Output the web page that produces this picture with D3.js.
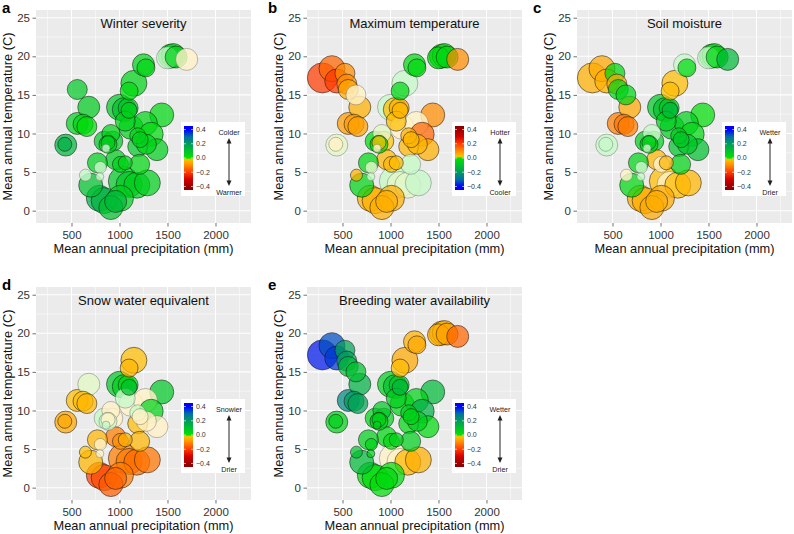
<!DOCTYPE html>
<html><head><meta charset="utf-8">
<script src="https://cdn.jsdelivr.net/npm/d3@7"></script>
<style>
body{margin:0;background:#fff;}
svg{display:block;font-family:"Liberation Sans",Arial,Helvetica,sans-serif;}
</style>
</head><body>
<svg id="chart" width="794" height="534"></svg>
<script>
// ---------- DATA ----------
const precip = [1500,1530,1560,1590,1700,1250,1275,1150,1100,1000,1050,1090,1100,1440,1060,1120,1270,1330,1190,1215,
  1190,1390,1280,1210,1040,1100,1180,1290,910,840,880,930,860,880,960,1010,770,800,795,645,
  700,790,840,910,1010,960,440,430,560,620,660,680,290,390,440,525,545,560,640,1060];
const temp = [19.8,20.0,20.1,19.9,19.6,18.9,18.5,16.5,15.5,13.4,13.1,13.3,13.0,12.4,11.6,10.8,11.3,9.9,9.7,9.2,
  8.3,7.9,8.6,6.0,3.8,3.4,3.3,3.6,10.0,9.0,8.6,9.0,8.1,8.8,6.6,6.0,6.2,5.6,4.4,4.6,
  3.3,1.6,1.3,0.4,1.6,1.2,8.5,8.6,11.3,11.2,10.9,13.4,17.2,18.4,16.8,17.8,16.4,15.7,15.0,6.2];
const sampleSize = [121,144,144,121,121,121,81,169,81,169,144,100,64,144,100,144,144,144,64,64,
  100,121,100,100,225,169,169,169,81,100,81,100,16,49,100,64,100,36,16,36,
  144,169,169,144,169,121,121,49,121,100,100,121,225,169,144,100,100,100,100,49];

const winterSeverity = [0.02,0.05,0.06,0.05,-0.02,0.05,0.04,0.05,0.03,0.08,0.1,0.08,0.06,0.04,0.05,0.06,0.05,0.03,0.04,0.06,
  0.08,0.06,0.05,0.04,0.08,0.08,0.06,0.06,0.05,0.08,0.06,0.07,0.03,0.06,0.07,0.05,0.06,0.02,0.02,0.04,
  0.1,0.15,0.14,0.1,0.06,0.12,0.13,0.15,0.06,0.05,0.02,0.07,null,null,null,null,null,0.08,null,0.05];
const winterSig = [0,1,1,1,0,1,1,1,1,1,1,1,1,1,1,1,1,1,1,1, 1,1,1,1,1,1,1,1,1,1,1,1,0,1,1,1,1,0,0,0, 1,1,1,1,1,1,1,1,1,1,1,1,1,1,1,1,1,1,1,1];

const maxTemperature = [-0.03,-0.02,-0.03,-0.04,0.1,-0.04,-0.03,-0.02,-0.04,-0.02,0.03,0.05,0.04,0.1,0.03,0.03,0.02,0.15,0.05,0.04,
  0.04,0.05,0.04,0.0,0.0,0.01,0.01,-0.02,0.01,-0.03,-0.02,0.02,0.02,0.03,0.04,0.04,-0.04,0.01,0.0,0.05,
  -0.05,0.05,0.05,0.05,0.05,0.05,0.01,0.02,0.08,0.08,0.07,0.05,0.2,0.15,0.2,0.1,0.1,0.06,0.02,0.03];
const maxTempSig = [1,1,1,1,1,1,1,0,1,0,1,1,1,1,1,0,0,1,1,1, 1,1,1,0,0,0,0,0,0,1,1,1,0,1,1,1,1,0,0,1, 1,1,1,1,1,1,0,0,1,1,1,1,1,1,1,1,1,1,0,1];

const soilMoisture = [0.02,0.04,0.03,0.04,0.12,0.02,0.03,-0.03,-0.03,0.08,0.1,0.08,0.12,0.02,0.06,0.07,0.06,0.04,0.07,0.08,
  0.1,0.1,0.08,0.05,-0.03,-0.03,-0.03,-0.04,0.02,0.06,0.05,0.06,0.02,0.05,-0.04,-0.03,0.05,0.0,0.0,-0.02,
  0.04,-0.06,-0.05,-0.06,-0.06,-0.05,0.01,0.02,-0.12,-0.13,-0.12,-0.06,-0.05,-0.06,-0.05,0.04,-0.06,0.05,0.05,-0.04];
const soilSig = [0,1,1,1,1,0,1,1,1,1,1,1,1,1,1,1,1,1,1,1, 1,1,1,1,1,0,1,1,0,1,1,1,0,1,1,0,1,0,0,0, 1,1,1,1,1,1,0,0,1,1,1,1,1,1,1,1,1,1,1,1];

const snowWater = [null,null,null,null,null,null,null,-0.03,-0.04,0.08,0.06,0.04,0.1,0.08,0.02,-0.03,-0.02,0.05,0.0,-0.02,
  -0.03,-0.03,-0.03,-0.04,-0.12,-0.12,-0.14,-0.13,-0.03,0.0,0.0,-0.03,0.02,-0.02,-0.12,-0.1,-0.04,-0.02,-0.02,-0.03,
  -0.04,-0.2,-0.18,-0.16,-0.12,-0.15,-0.06,-0.06,-0.03,-0.03,-0.04,-0.01,null,null,null,null,null,null,null,-0.05];
const snowSig = [1,1,1,1,1,1,1,1,1,1,1,1,1,1,0,0,0,1,0,0, 1,0,0,1,1,1,1,1,0,0,0,0,0,0,1,1,1,0,0,1, 1,1,1,1,1,1,1,1,1,1,1,0,1,1,1,1,1,1,1,1];

const breedingWater = [-0.05,-0.06,-0.05,-0.07,-0.15,-0.05,-0.06,-0.06,-0.03,0.06,0.1,0.08,0.12,0.12,0.06,0.05,0.05,0.15,0.06,0.05,
  0.04,0.03,0.06,0.06,-0.02,-0.02,-0.04,-0.05,0.08,0.05,0.05,0.06,0.05,0.06,0.04,0.03,0.06,0.05,0.05,0.1,
  0.12,0.03,0.02,0.02,0.03,0.03,0.05,0.06,0.25,0.2,0.18,0.15,0.38,0.33,0.35,0.18,0.2,0.12,0.1,0.05];
const breedingSig = [1,1,1,1,1,1,1,1,1,1,1,1,1,1,1,1,1,1,1,1, 1,1,1,1,0,0,1,1,1,1,1,1,1,1,1,1,1,1,1,1, 1,1,1,1,1,1,1,1,1,1,1,1,1,1,1,1,1,1,1,1];

const xTicks = [500,1000,1500,2000];
const yTicks = [0,5,10,15,20,25];
const legendTicks = [0.4,0.2,0.0,-0.2,-0.4];
const panelTitles = ["Winter severity","Maximum temperature","Soil moisture","Snow water equivalent","Breeding water availability"];
const panelLetters = ["a","b","c","d","e"];
const legendTop = ["Colder","Hotter","Wetter","Snowier","Wetter"];
const legendBottom = ["Warmer","Cooler","Drier","Drier","Drier"];
const panelValues = [winterSeverity,maxTemperature,soilMoisture,snowWater,breedingWater];
const panelSig = [winterSig,maxTempSig,soilSig,snowSig,breedingSig];
const panelReversed = [false,true,false,false,false];
const xLabel = "Mean annual precipitation (mm)";
const yLabel = "Mean annual temperature (C)";

// colour map (value -> colour), positive = blue end
const cmapStops = [-0.45,-0.4,-0.3,-0.2,-0.1,-0.02,0.0,0.1,0.2,0.3,0.4,0.45];
const cmapColors = ["#8b0000","#9a0000","#d40000","#ff3c00","#ff8c00","#ffc400","#00e400","#00c02e","#009c5c","#0070a6","#0000ff","#0000ff"];

// ---------- LAYOUT ----------
const svg = d3.select("#chart");
const colLeft = [36,307,577], rowTop = [10,287];
const PW = 215, PH = 213;
const letterX = [2,268,533], letterY = [13,290];

const cmap = d3.scaleLinear().domain(cmapStops).range(cmapColors).interpolate(d3.interpolateRgb).clamp(true);
const rScale = d3.scaleSqrt().domain([0,256]).range([0,16]);

const defs = svg.append("defs");
[false,true].forEach(rev=>{
  const g = defs.append("linearGradient").attr("id", rev?"gradRev":"grad")
    .attr("x1",0).attr("y1",0).attr("x2",0).attr("y2",1);
  d3.range(0,1.0001,0.02).forEach(t=>{
    const v = 0.45 - 0.9*t;
    g.append("stop").attr("offset",t).attr("stop-color", cmap(rev?-v:v));
  });
});

panelTitles.forEach((title,pi)=>{
  const col = pi%3, row = Math.floor(pi/3);
  const L = colLeft[col], T = rowTop[row];
  const g = svg.append("g").attr("transform",`translate(${L},${T})`);
  const x = d3.scaleLinear().domain([130,2370]).range([0,PW]);
  const y = d3.scaleLinear().domain([-1.6,26]).range([PH,0]);

  g.append("rect").attr("width",PW).attr("height",PH).attr("fill","#ebebeb");
  const xMinor = [250,750,1250,1750,2250], yMinor = [2.5,7.5,12.5,17.5,22.5];
  g.selectAll(".xm").data(xMinor).enter().append("line")
    .attr("x1",d=>x(d)).attr("x2",d=>x(d)).attr("y1",0).attr("y2",PH)
    .attr("stroke","#fff").attr("stroke-width",0.5);
  g.selectAll(".ym").data(yMinor).enter().append("line")
    .attr("y1",d=>y(d)).attr("y2",d=>y(d)).attr("x1",0).attr("x2",PW)
    .attr("stroke","#fff").attr("stroke-width",0.5);
  g.selectAll(".xM").data(xTicks).enter().append("line")
    .attr("x1",d=>x(d)).attr("x2",d=>x(d)).attr("y1",0).attr("y2",PH)
    .attr("stroke","#fff").attr("stroke-width",1.05);
  g.selectAll(".yM").data(yTicks).enter().append("line")
    .attr("y1",d=>y(d)).attr("y2",d=>y(d)).attr("x1",0).attr("x2",PW)
    .attr("stroke","#fff").attr("stroke-width",1.05);

  const xa = g.append("g").attr("transform",`translate(0,${PH})`)
    .call(d3.axisBottom(x).tickValues(xTicks).tickSize(3.5).tickPadding(4.5).tickFormat(d3.format("d")));
  const ya = g.append("g").call(d3.axisLeft(y).tickValues(yTicks).tickSize(3.5).tickPadding(2.5).tickFormat(d3.format("d")));
  [xa,ya].forEach(a=>{
    a.select(".domain").remove();
    a.selectAll(".tick line").attr("stroke","#333").attr("stroke-width",0.7);
    a.selectAll(".tick text").attr("fill","#333").attr("font-size",11.5)
      .attr("font-family","'Liberation Sans',Arial,sans-serif");
  });

  g.append("text").attr("x",PW/2).attr("y",PH+30).attr("text-anchor","middle")
    .attr("font-size",12.8).attr("fill","#111").text(xLabel);
  g.append("text").attr("transform",`translate(${-24},${PH/2}) rotate(-90)`)
    .attr("text-anchor","middle").attr("font-size",12.8).attr("fill","#111").text(yLabel);

  g.append("text").attr("x",PW/2).attr("y",17.5).attr("text-anchor","middle")
    .attr("font-size",13).attr("fill","#111").text(title);

  const vals = panelValues[pi], sig = panelSig[pi], rev = panelReversed[pi];
  const pts = precip.map((p,i)=>({p, t:temp[i], s:sampleSize[i], v:vals[i], sig:sig[i]}))
    .filter(d=>d.v!==null)
    .sort((a,b)=>b.s-a.s);
  g.selectAll(".pt").data(pts).enter().append("circle")
    .attr("cx",d=>x(d.p)).attr("cy",d=>y(d.t)).attr("r",d=>rScale(d.s))
    .attr("fill",d=>{
      const c = cmap(rev?-d.v:d.v);
      return d.sig ? c : d3.interpolateRgb(c,"#ffffff")(0.78);
    })
    .attr("fill-opacity",d=>d.sig?0.72:0.82)
    .attr("stroke",d=>d.sig?"#111":"#555")
    .attr("stroke-opacity",d=>d.sig?0.75:0.55)
    .attr("stroke-width",0.7);

  const lg = g.append("g").attr("transform",`translate(${145},${112})`);
  lg.append("rect").attr("width",64).attr("height",74).attr("fill","#fff");
  const ly = d3.scaleLinear().domain([0.45,-0.45]).range([4,68]);
  lg.append("rect").attr("x",3).attr("y",ly(0.45)).attr("width",9).attr("height",ly(-0.45)-ly(0.45))
    .attr("fill",`url(#${rev?"gradRev":"grad"})`);
  lg.selectAll(".lt").data(legendTicks).enter().append("line")
    .attr("x1",3).attr("x2",5).attr("y1",d=>ly(d)).attr("y2",d=>ly(d)).attr("stroke","#fff").attr("stroke-width",0.6);
  lg.selectAll(".lt2").data(legendTicks).enter().append("line")
    .attr("x1",10).attr("x2",12).attr("y1",d=>ly(d)).attr("y2",d=>ly(d)).attr("stroke","#fff").attr("stroke-width",0.6);
  lg.selectAll(".ll").data(legendTicks).enter().append("text")
    .attr("x",15).attr("y",d=>ly(d)).attr("dy","0.35em").attr("font-size",7).attr("fill","#333")
    .text(d=>d3.format(".1f")(d).replace("-","\u2212"));
  lg.append("text").attr("x",48).attr("y",13).attr("text-anchor","middle").attr("font-size",7.2).attr("fill","#222").text(legendTop[pi]);
  lg.append("text").attr("x",48).attr("y",73).attr("text-anchor","middle").attr("font-size",7.2).attr("fill","#222").text(legendBottom[pi]);
  lg.append("line").attr("x1",48).attr("x2",48).attr("y1",20).attr("y2",60).attr("stroke","#222").attr("stroke-width",1);
  lg.append("path").attr("d","M48,16 L45.5,21.5 L50.5,21.5 Z").attr("fill","#222");
  lg.append("path").attr("d","M48,64 L45.5,58.5 L50.5,58.5 Z").attr("fill","#222");

  svg.append("text").attr("x",letterX[col]).attr("y",letterY[row]).attr("font-size",15)
    .attr("font-weight","bold").attr("fill","#000").text(panelLetters[pi]);
});
</script>
</body></html>
